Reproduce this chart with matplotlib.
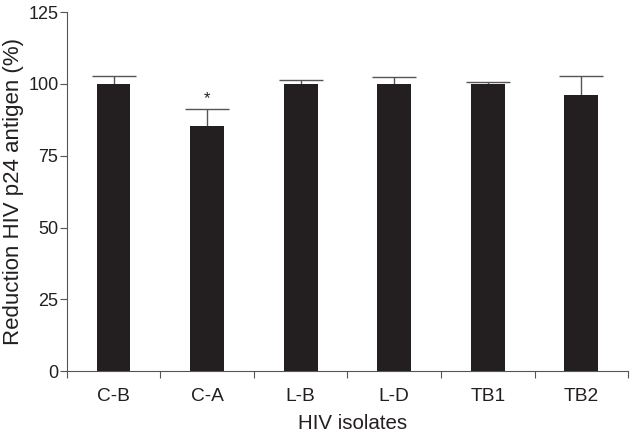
import matplotlib
matplotlib.use("Agg")
import matplotlib.pyplot as plt
import numpy as np

# data
isolates = ["C-B", "C-A", "L-B", "L-D", "TB1", "TB2"]
reduction = [100.0, 85.3, 100.0, 100.0, 100.0, 96.2]
err_upper = [2.7, 6.0, 1.5, 2.5, 0.8, 6.6]
stars = ["", "*", "", "", "", ""]

plt.rcParams['font.family'] = ['Liberation Sans', 'DejaVu Sans']

fig = plt.figure(figsize=(6.3, 4.36), dpi=100)
ax = fig.add_axes([0.106, 0.149, 0.891, 0.823])

x = np.arange(len(isolates))
err = [np.zeros(len(err_upper)), err_upper]
ax.bar(x, reduction, width=0.36, color='#231f20', zorder=2)
eb = ax.errorbar(x, reduction, yerr=err, fmt='none', ecolor='#555555',
                 elinewidth=1.0, capsize=16, capthick=1.0, zorder=1)
# only the upper half of the error bar is shown, hide the lower caps
eb[1][0].set_visible(False)

# significance marks above the error bars
for xi, v, e, s in zip(x, reduction, err_upper, stars):
    if s:
        ax.text(xi, v + e + 1.0, s, ha='center', va='bottom', fontsize=12, color='#231f20')

ax.set_xlim(-0.5, len(isolates) - 0.5)
ax.set_ylim(0, 125)
ax.set_yticks([0, 25, 50, 75, 100, 125])

# x ticks sit between the categories, labels under the bars
ax.set_xticks(np.arange(-0.5, len(isolates), 1.0))
ax.set_xticklabels([])
ax.set_xticks(x, minor=True)
ax.set_xticklabels(isolates, minor=True)
ax.tick_params(axis='x', which='minor', length=0, pad=12, labelsize=13.8, labelcolor='#231f20')
ax.tick_params(axis='x', which='major', length=5, width=0.8, color='#555555')
ax.tick_params(axis='y', length=5, width=0.8, color='#555555', labelsize=13,
               labelcolor='#231f20', pad=1)

for side in ['top', 'right']:
    ax.spines[side].set_visible(False)
for side in ['left', 'bottom']:
    ax.spines[side].set_color('#555555')
    ax.spines[side].set_linewidth(0.8)

ax.set_xlabel('HIV isolates', fontsize=14.8, color='#231f20', labelpad=9)
ax.xaxis.set_label_coords(0.51, -0.12)
ax.xaxis.label.set_va('top')
ax.set_ylabel('Reduction HIV p24 antigen (%)', fontsize=16, color='#231f20', labelpad=3)

fig.savefig('out.png', dpi=100)
